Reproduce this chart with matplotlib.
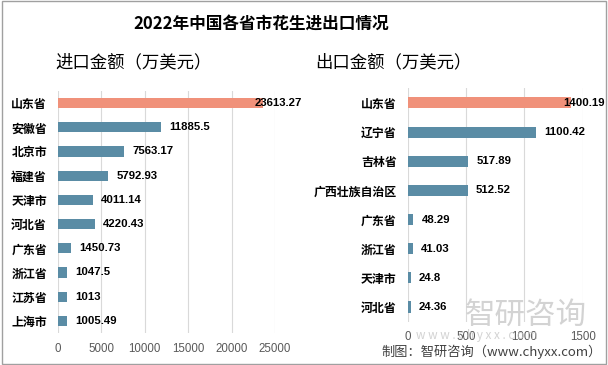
import matplotlib.pyplot as plt
from matplotlib.patches import Rectangle

plt.rcParams['font.family'] = ['Noto Sans CJK SC', 'DejaVu Sans']

# 进口数据
imp_names = ['山东省', '安徽省', '北京市', '福建省', '天津市', '河北省', '广东省', '浙江省', '江苏省', '上海市']
imp_values = [23613.27, 11885.5, 7563.17, 5792.93, 4011.14, 4220.43, 1450.73, 1047.5, 1013, 1005.49]
imp_ticks = [0, 5000, 10000, 15000, 20000, 25000]

# 出口数据
exp_names = ['山东省', '辽宁省', '吉林省', '广西壮族自治区', '广东省', '浙江省', '天津市', '河北省']
exp_values = [1400.19, 1100.42, 517.89, 512.52, 48.29, 41.03, 24.8, 24.36]
exp_ticks = [0, 500, 1000, 1500]

RED = '#F0917A'
BLUE = '#5A8CA5'
GRID = '#D9D9D9'
NUM_FONT = ['Liberation Sans', 'Noto Sans CJK SC']


def draw_bars(ax, names, values, ticks, height):
    n = len(names)
    ys = list(range(n))
    colors = [RED] + [BLUE] * (n - 1)
    ax.barh(ys, values, height=height, color=colors, zorder=3)
    ax.set_ylim(n - 0.5, -0.5)
    ax.set_xlim(ticks[0], ticks[-1])
    ax.set_xticks(ticks)
    ax.set_xticklabels([str(t) for t in ticks], family=NUM_FONT, fontsize=8.3, color='#595959')
    ax.set_yticks(ys)
    ax.set_yticklabels(names, fontsize=8.6, fontweight='black', color='black')
    ax.tick_params(axis='both', length=0)
    ax.tick_params(axis='x', pad=7)
    ax.tick_params(axis='y', pad=8)
    ax.grid(axis='x', color=GRID, linewidth=0.8, zorder=0)
    for s in ax.spines.values():
        s.set_visible(False)
    for i, v in enumerate(values):
        off = -6 if i == 0 else 6
        ax.annotate(f'{v:g}' if i else f'{v:.2f}', xy=(v, i), xytext=(off, 0),
                    textcoords='offset points', va='center', ha='left',
                    family=NUM_FONT, fontsize=8.2, fontweight='bold', color='black',
                    zorder=4, annotation_clip=False)


fig = plt.figure(figsize=(6.08, 3.65), dpi=100)

ax1 = fig.add_axes([0.0954, 0.0877, 0.357, 0.663])
draw_bars(ax1, imp_names, imp_values, imp_ticks, 0.42)

ax2 = fig.add_axes([0.6706, 0.119, 0.288, 0.639])
draw_bars(ax2, exp_names, exp_values, exp_ticks, 0.38)

# 标题
fig.text(0.429, 0.932, '2022年中国各省市花生进出口情况', ha='center', va='center',
         fontsize=12, fontweight='bold')
fig.text(0.0905, 0.830, '进口金额（万美元）', ha='left', va='center', fontsize=12.5,
         fontweight='medium')
fig.text(0.518, 0.830, '出口金额（万美元）', ha='left', va='center', fontsize=12.5,
         fontweight='medium')

# 水印
fig.text(0.765, 0.137, '智研咨询', ha='left', va='center', fontsize=22,
         color='#C8C8C8', alpha=0.8)
fig.text(0.685, 0.082, 'w w w . c h y x x . c o m', ha='left', va='center', fontsize=8.5,
         color='#C8C8C8', alpha=0.8)

# 来源
fig.text(0.99, 0.036, '制图：智研咨询（www.chyxx.com）', ha='right', va='center',
         fontsize=9.5, color='#404040')

# 外框
fig.patches.append(Rectangle((0.003, 0.004), 0.994, 0.992, transform=fig.transFigure,
                             fill=False, edgecolor='#A0A0A0', linewidth=1))

fig.savefig('out.png', dpi=100)
